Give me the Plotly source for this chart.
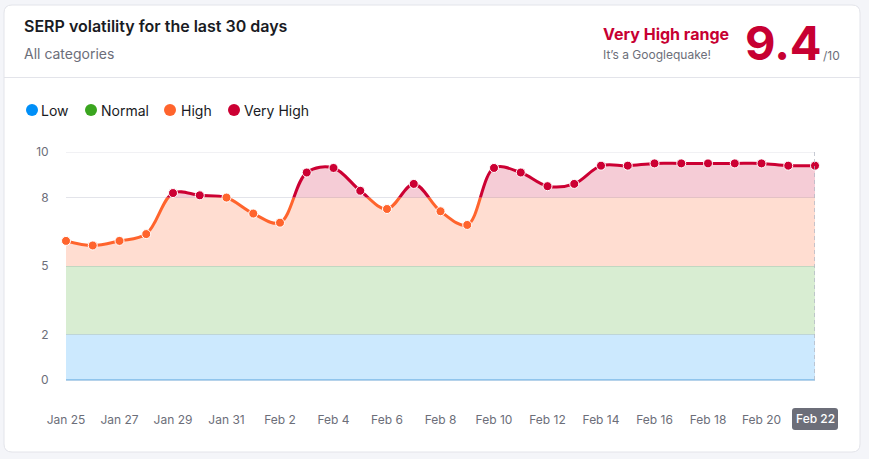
# SERP volatility card, rebuilt with plotly
import plotly.graph_objects as go

dates = [
    "Jan 25", "Jan 26", "Jan 27", "Jan 28", "Jan 29", "Jan 30", "Jan 31",
    "Feb 1", "Feb 2", "Feb 3", "Feb 4", "Feb 5", "Feb 6", "Feb 7", "Feb 8",
    "Feb 9", "Feb 10", "Feb 11", "Feb 12", "Feb 13", "Feb 14", "Feb 15",
    "Feb 16", "Feb 17", "Feb 18", "Feb 19", "Feb 20", "Feb 21", "Feb 22",
]
volatility = [
    6.1, 5.9, 6.1, 6.4, 8.2, 8.1, 8.0, 7.3, 6.9, 9.1, 9.3, 8.3, 7.5, 8.6, 7.4,
    6.8, 9.3, 9.1, 8.5, 8.6, 9.4, 9.4, 9.5, 9.5, 9.5, 9.5, 9.5, 9.4, 9.4,
]
x_ticks = dates[::2][:-1]
y_ticks = [0, 2, 5, 8, 10]

band_names = ["Low", "Normal", "High", "Very High"]
band_limits = [(0, 2), (2, 5), (5, 8), (8, 10)]
band_colors = ["#008FF8", "#3AA51F", "#FF642D", "#CC0033"]
band_fills = [
    "rgba(0,143,248,0.2)",
    "rgba(58,165,31,0.2)",
    "rgba(255,100,45,0.22)",
    "rgba(204,0,51,0.2)",
]

W, H = 869, 459
LEFT, RIGHT, TOP, BOTTOM = 66, 815, 152, 380
INK = "#191B23"
GREY = "#6C6E79"
RED = "#C70032"


# annotations and shapes use paper coords, which follow the plot area
def px(v):
    return (v - LEFT) / (RIGHT - LEFT)


def py(v):
    return (BOTTOM - v) / (BOTTOM - TOP)


def round_rect(x0, y0, x1, y1, r):
    return (
        f"M {px(x0 + r)} {py(y0)} L {px(x1 - r)} {py(y0)} "
        f"Q {px(x1)} {py(y0)} {px(x1)} {py(y0 + r)} L {px(x1)} {py(y1 - r)} "
        f"Q {px(x1)} {py(y1)} {px(x1 - r)} {py(y1)} L {px(x0 + r)} {py(y1)} "
        f"Q {px(x0)} {py(y1)} {px(x0)} {py(y1 - r)} L {px(x0)} {py(y0 + r)} "
        f"Q {px(x0)} {py(y0)} {px(x0 + r)} {py(y0)} Z"
    )


def label(fig, x, y, text, size, color, weight=400, anchor="left"):
    fig.add_annotation(
        x=px(x), y=py(y), xref="paper", yref="paper", text=text,
        showarrow=False, xanchor=anchor, yanchor="middle", borderpad=0,
        font=dict(family="Inter", size=size, color=color, weight=weight),
    )


fig = go.Figure()

# each band has its own y axis squeezed to its slice of the plot,
# so the subplot clipping cuts fill and line colour at the band limits
layout_axes = {}
for i, (low, high) in enumerate(band_limits):
    axis = f"yaxis{i + 2}"
    layout_axes[axis] = dict(
        domain=[low / 10, high / 10], range=[low, high], visible=False, anchor="x"
    )
    fig.add_trace(
        go.Scatter(
            x=dates, y=volatility, yaxis=f"y{i + 2}", name=band_names[i],
            mode="lines", fill="tozeroy", fillcolor=band_fills[i],
            line=dict(color=band_colors[i], width=3, shape="spline", smoothing=1.0),
            hoverinfo="skip", showlegend=False,
        )
    )

# main axis only carries the grid
fig.add_trace(
    go.Scatter(
        x=dates, y=volatility, mode="lines", line=dict(width=0),
        hoverinfo="skip", showlegend=False,
    )
)

# points on top of everything
point_colors = [band_colors[3] if v > 8 else band_colors[2] for v in volatility]
layout_axes["yaxis6"] = dict(domain=[0, 1], range=[0, 10], visible=False, anchor="x")
fig.add_trace(
    go.Scatter(
        x=dates, y=volatility, yaxis="y6", mode="markers", cliponaxis=False,
        marker=dict(size=9, color=point_colors, line=dict(color="white", width=1)),
        showlegend=False,
    )
)

# card and header divider
fig.add_shape(
    type="path", path=round_rect(4, 5, 860, 452, 8), xref="paper", yref="paper",
    fillcolor="white", line=dict(color="#E3E4EA", width=1), layer="below",
)
fig.add_shape(
    type="line", x0=px(4), x1=px(860), y0=py(77.5), y1=py(77.5),
    xref="paper", yref="paper", line=dict(color="#E3E4EA", width=1), layer="below",
)
# plotly skips the grid line on the top edge of the axis
fig.add_shape(
    type="line", x0=dates[0], x1=dates[-1], y0=y_ticks[-1], y1=y_ticks[-1],
    xref="x", yref="y", line=dict(color="#E3E4EA", width=1), layer="below",
)
# last day marker
fig.add_shape(
    type="line", x0=dates[-1], x1=dates[-1], y0=0, y1=10, xref="x", yref="y",
    line=dict(color="#B4B8C4", width=1.5, dash="4px,3px"), layer="above",
)

# header
label(fig, 23, 26, "SERP volatility for the last 30 days", 16, INK, 600)
label(fig, 23, 53.5, "All categories", 14, GREY)
label(fig, 602, 34, "Very High range", 16, RED, 700)
label(fig, 602, 54, "It’s a Googlequake!", 12, GREY)
label(fig, 744, 42.5, "9.4", 47, RED, 700)
label(fig, 822, 55.5, "/10", 12, GREY)

# legend
legend_dots = [32, 91, 170, 234]
legend_text = [40, 100, 180, 243]
for i, name in enumerate(band_names):
    fig.add_shape(
        type="circle", xref="paper", yref="paper",
        x0=px(legend_dots[i] - 6), x1=px(legend_dots[i] + 6),
        y0=py(110 - 6), y1=py(110 + 6),
        fillcolor=band_colors[i], line=dict(width=0), layer="below",
    )
    label(fig, legend_text[i], 110.5, name, 14, INK)

# highlighted last date
fig.add_shape(
    type="path", path=round_rect(792, 408, 838, 430, 3), xref="paper", yref="paper",
    fillcolor=GREY, line=dict(width=0), layer="below",
)
label(fig, 815, 418.5, dates[-1], 12, "white", 500, anchor="center")

fig.update_layout(
    width=W, height=H,
    margin=dict(l=LEFT, r=W - RIGHT, t=TOP, b=H - BOTTOM, autoexpand=False),
    paper_bgcolor="#F4F5F9",
    plot_bgcolor="rgba(0,0,0,0)",
    showlegend=False,
    font=dict(family="Inter", size=12, color=GREY),
    xaxis=dict(
        type="category", categoryorder="array", categoryarray=dates,
        range=[0, len(dates) - 1], tickmode="array", tickvals=x_ticks,
        ticktext=x_ticks, showgrid=False, zeroline=False, showline=False,
        ticks="outside", ticklen=29, tickcolor="rgba(0,0,0,0)",
        tickangle=0, tickfont=dict(size=12, color=GREY),
    ),
    yaxis=dict(
        range=[0, 10], tickmode="array", tickvals=y_ticks, showgrid=True,
        gridcolor="#E3E4EA", gridwidth=1, zeroline=True, zerolinecolor="#B5D2EA",
        zerolinewidth=1.5, showline=False, ticks="outside", ticklen=14,
        tickcolor="rgba(0,0,0,0)", tickfont=dict(size=12, color=GREY),
    ),
    **layout_axes,
)

fig.write_html(
    "out.html",
    config=dict(displayModeBar=False),
    post_script="document.body.style.margin='0';document.body.style.overflow='hidden';",
)
